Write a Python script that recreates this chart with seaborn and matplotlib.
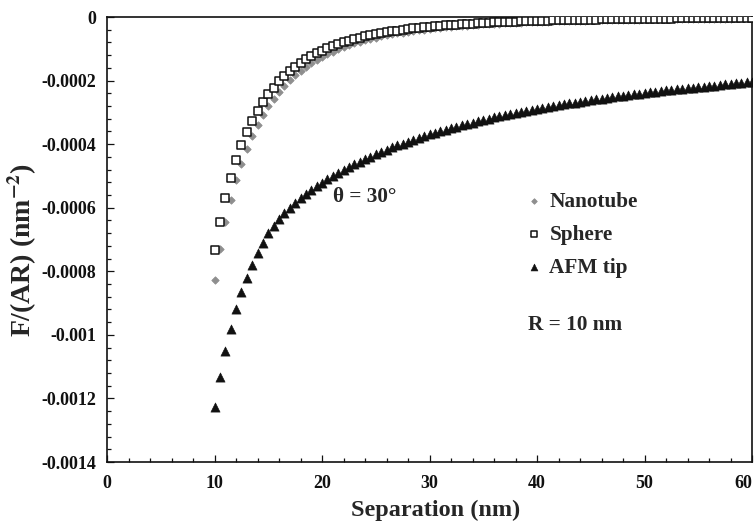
import matplotlib
matplotlib.use("Agg")
import matplotlib.pyplot as plt
import numpy as np
import pandas as pd
import seaborn as sns
from matplotlib.ticker import FixedLocator, MultipleLocator

# ---- data (force magnitudes in units of 1e-4 nm^-2; plotted as negative) ----
separation = [10, 10.5, 11, 11.5, 12, 12.5, 13, 13.5, 14, 14.5,
              15, 15.5, 16, 16.5, 17, 17.5, 18, 18.5, 19, 19.5,
              20, 20.5, 21, 21.5, 22, 22.5, 23, 23.5, 24, 24.5,
              25, 25.5, 26, 26.5, 27, 27.5, 28, 28.5, 29, 29.5,
              30, 30.5, 31, 31.5, 32, 32.5, 33, 33.5, 34, 34.5,
              35, 35.5, 36, 36.5, 37, 37.5, 38, 38.5, 39, 39.5,
              40, 40.5, 41, 41.5, 42, 42.5, 43, 43.5, 44, 44.5,
              45, 45.5, 46, 46.5, 47, 47.5, 48, 48.5, 49, 49.5,
              50, 50.5, 51, 51.5, 52, 52.5, 53, 53.5, 54, 54.5,
              55, 55.5, 56, 56.5, 57, 57.5, 58, 58.5, 59, 59.5,
              60]

nanotube = [8.28, 7.30, 6.46, 5.75, 5.14, 4.61, 4.15, 3.74, 3.39, 3.08,
            2.81, 2.57, 2.35, 2.16, 1.98, 1.83, 1.69, 1.56, 1.45, 1.34,
            1.25, 1.16, 1.09, 1.01, 0.948, 0.888, 0.833, 0.782, 0.734, 0.691,
            0.651, 0.613, 0.580, 0.547, 0.518, 0.489, 0.464, 0.440, 0.418, 0.396,
            0.376, 0.359, 0.341, 0.324, 0.309, 0.294, 0.281, 0.268, 0.256, 0.245,
            0.235, 0.225, 0.215, 0.206, 0.197, 0.189, 0.182, 0.174, 0.167, 0.161,
            0.155, 0.149, 0.143, 0.138, 0.133, 0.128, 0.123, 0.119, 0.115, 0.111,
            0.107, 0.103, 0.0996, 0.0961, 0.0930, 0.0899, 0.0869, 0.0840, 0.0814, 0.0787,
            0.0762, 0.0738, 0.0716, 0.0693, 0.0673, 0.0651, 0.0632, 0.0613, 0.0595, 0.0578,
            0.0561, 0.0544, 0.0529, 0.0514, 0.0500, 0.0485, 0.0473, 0.0460, 0.0447, 0.0435,
            0.0424]

sphere = [7.33, 6.44, 5.69, 5.05, 4.50, 4.03, 3.62, 3.26, 2.95, 2.67,
          2.43, 2.22, 2.02, 1.85, 1.70, 1.57, 1.44, 1.33, 1.23, 1.14,
          1.06, 0.984, 0.916, 0.854, 0.797, 0.745, 0.697, 0.653, 0.612, 0.575,
          0.540, 0.508, 0.479, 0.451, 0.426, 0.402, 0.380, 0.360, 0.341, 0.323,
          0.306, 0.291, 0.276, 0.262, 0.249, 0.237, 0.226, 0.215, 0.205, 0.196,
          0.187, 0.179, 0.171, 0.163, 0.156, 0.149, 0.143, 0.137, 0.131, 0.126,
          0.121, 0.116, 0.111, 0.107, 0.103, 0.0989, 0.0952, 0.0916, 0.0881, 0.0849,
          0.0818, 0.0788, 0.0760, 0.0732, 0.0707, 0.0682, 0.0658, 0.0635, 0.0614, 0.0593,
          0.0573, 0.0554, 0.0536, 0.0518, 0.0502, 0.0485, 0.0470, 0.0455, 0.0441, 0.0427,
          0.0414, 0.0401, 0.0389, 0.0377, 0.0366, 0.0355, 0.0345, 0.0335, 0.0325, 0.0316,
          0.0307]

afm_tip = [12.28, 11.32, 10.50, 9.81, 9.20, 8.66, 8.20, 7.81, 7.43, 7.10,
           6.81, 6.58, 6.37, 6.18, 6.01, 5.86, 5.71, 5.58, 5.45, 5.33,
           5.21, 5.11, 5.00, 4.90, 4.81, 4.72, 4.63, 4.55, 4.46, 4.39,
           4.31, 4.24, 4.17, 4.10, 4.04, 3.98, 3.92, 3.86, 3.80, 3.75,
           3.69, 3.64, 3.59, 3.54, 3.50, 3.45, 3.41, 3.36, 3.32, 3.28,
           3.24, 3.20, 3.16, 3.13, 3.09, 3.06, 3.02, 2.99, 2.95, 2.92,
           2.89, 2.86, 2.83, 2.80, 2.77, 2.75, 2.72, 2.69, 2.67, 2.64,
           2.62, 2.59, 2.57, 2.54, 2.52, 2.50, 2.48, 2.46, 2.43, 2.41,
           2.39, 2.37, 2.35, 2.33, 2.31, 2.30, 2.28, 2.26, 2.24, 2.22,
           2.21, 2.19, 2.17, 2.16, 2.14, 2.12, 2.11, 2.09, 2.08, 2.06,
           2.05]

series_labels = ["Nanotube", "Sphere", "AFM tip"]
x_ticks = [0, 10, 20, 30, 40, 50, 60]
x_tick_labels = ["0", "10", "20", "30", "40", "50", "60"]
y_ticks = [0, -0.0002, -0.0004, -0.0006, -0.0008, -0.001, -0.0012, -0.0014]
y_tick_labels = ["0", "-0.0002", "-0.0004", "-0.0006", "-0.0008", "-0.001", "-0.0012", "-0.0014"]

# ---- style ----
sns.set_style("ticks")
plt.rcParams["font.family"] = ["Liberation Serif", "DejaVu Serif"]
plt.rcParams["font.weight"] = "bold"
plt.rcParams["mathtext.fontset"] = "stix"
plt.rcParams["mathtext.default"] = "bf"

df = pd.DataFrame({
    "sep": separation,
    series_labels[0]: [-v * 1e-4 for v in nanotube],
    series_labels[1]: [-v * 1e-4 for v in sphere],
    series_labels[2]: [-v * 1e-4 for v in afm_tip],
})

fig = plt.figure(figsize=(7.54, 5.23), dpi=100)
W, H = 754, 523
L, R, T, B = 107, 752, 17, 462
ax = fig.add_axes([L / W, 1 - B / H, (R - L) / W, (B - T) / H])

sns.scatterplot(data=df, x="sep", y=series_labels[0], ax=ax, marker="D", s=14,
                color="#8e8e8e", edgecolor="#8e8e8e", linewidth=0.6,
                label=series_labels[0], zorder=2)
sns.scatterplot(data=df, x="sep", y=series_labels[1], ax=ax, marker="s", s=36,
                color="white", edgecolor="#111111", linewidth=1.1,
                label=series_labels[1], zorder=3)
sns.scatterplot(data=df, x="sep", y=series_labels[2], ax=ax, marker="^", s=44,
                color="#111111", edgecolor="#111111", linewidth=0.4,
                label=series_labels[2], zorder=4)

ax.set_xlim(0, 60)
ax.set_ylim(-0.0014, 0)
ax.xaxis.set_major_locator(FixedLocator(x_ticks))
ax.set_xticklabels(x_tick_labels)
ax.xaxis.set_minor_locator(MultipleLocator(2))
ax.yaxis.set_major_locator(FixedLocator(y_ticks))
ax.set_yticklabels(y_tick_labels)
ax.yaxis.set_minor_locator(MultipleLocator(0.00004))

ax.tick_params(which="both", direction="in", colors="#111111", width=0.9)
ax.tick_params(which="major", length=5, labelsize=13)
ax.tick_params(axis="x", which="major", pad=9)
ax.tick_params(axis="y", which="major", pad=8)
ax.tick_params(which="minor", length=3)
for lab in ax.get_xticklabels() + ax.get_yticklabels():
    lab.set_fontweight("bold")
ax.get_xticklabels()[-1].set_ha("right")
ax.get_xticklabels()[-1].set_x(60)
for sp in ax.spines.values():
    sp.set_visible(True)
    sp.set_linewidth(1.2)
    sp.set_color("#111111")

ax.set_xlabel("Separation (nm)", fontsize=17.5, fontweight="bold")
ax.set_ylabel("F/(AR) (nm$^{-2}$)", fontsize=20, fontweight="bold")
ax.xaxis.label.set_va("center")
ax.xaxis.set_label_coords((436 - L) / (R - L), -(510 - B) / (B - T))
ax.yaxis.label.set_va("center")
ax.yaxis.label.set_ha("center")
ax.yaxis.set_label_coords(-(L - 22) / (R - L), (B - 250) / (B - T))

leg = ax.legend(loc="upper left", bbox_to_anchor=((525 - L) / (R - L), (B - 192) / (B - T)),
                frameon=False, fontsize=15.3, handlelength=0.8, handletextpad=0.35,
                labelspacing=0.6, borderpad=0, borderaxespad=0, markerscale=0.75)
for t in leg.get_texts():
    t.set_fontweight("bold")

ax.text((333 - L) / (R - L), (B - 197) / (B - T), "θ = 30°", transform=ax.transAxes,
        fontsize=15.3, fontweight="bold", ha="left", va="center")
ax.text((528 - L) / (R - L), (B - 325) / (B - T), "R = 10 nm", transform=ax.transAxes,
        fontsize=15.3, fontweight="bold", ha="left", va="center")

fig.savefig("out.png", dpi=100)
